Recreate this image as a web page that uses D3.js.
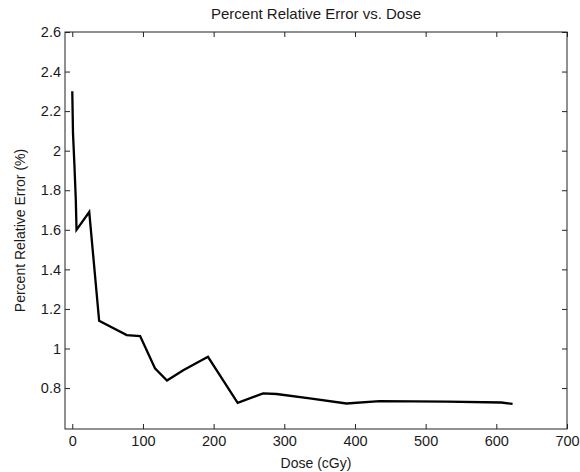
<!DOCTYPE html>
<html><head><meta charset="utf-8">
<script src="https://cdn.jsdelivr.net/npm/d3@7"></script>
<style>body{margin:0;background:#fff}svg{display:block}text{font-family:"Liberation Sans",Arial,sans-serif;fill:#1a1a1a}</style>
</head><body><svg id="c" width="580" height="472"></svg>
<script>
const dose = [0, 1, 3, 5, 6, 24, 38, 77, 96, 117, 134, 157, 192, 234, 270, 289, 336, 388, 435, 530, 607, 623];
const err  = [2.30, 2.09, 1.93, 1.75, 1.60, 1.69, 1.14, 1.068, 1.063, 0.90, 0.838, 0.89, 0.958, 0.725, 0.773, 0.77, 0.748, 0.722, 0.734, 0.731, 0.727, 0.72];
const xTicks = [0, 100, 200, 300, 400, 500, 600, 700];
const yTicks = [0.8, 1, 1.2, 1.4, 1.6, 1.8, 2, 2.2, 2.4, 2.6];
const title = "Percent Relative Error vs. Dose";
const xLabel = "Dose (cGy)";
const yLabel = "Percent Relative Error (%)";

const svg = d3.select("#c");
const L = 65, R = 567, T = 32, B = 429;
const x = d3.scaleLinear().domain([-10.3, 700]).range([L, R]);
const y = d3.scaleLinear().domain([0.593, 2.6]).range([B, T]);
const fmt = d => String(d);
const fs = 14.5;

function styleAxis(g){ g.select(".domain").remove(); g.selectAll("line").attr("stroke","#222"); g.selectAll("text").style("font-size",fs+"px").attr("fill","#1a1a1a"); }

svg.append("g").attr("transform",`translate(0,${B})`)
  .call(d3.axisBottom(x).tickValues(xTicks).tickFormat(fmt).tickSizeInner(-5).tickSizeOuter(0).tickPadding(7))
  .call(styleAxis);
svg.append("g").attr("transform",`translate(0,${T})`)
  .call(d3.axisTop(x).tickValues(xTicks).tickFormat("").tickSizeInner(-5).tickSizeOuter(0))
  .call(styleAxis);
svg.append("g").attr("transform",`translate(${L},0)`)
  .call(d3.axisLeft(y).tickValues(yTicks).tickFormat(fmt).tickSizeInner(-5).tickSizeOuter(0).tickPadding(4))
  .call(styleAxis);
svg.append("g").attr("transform",`translate(${R},0)`)
  .call(d3.axisRight(y).tickValues(yTicks).tickFormat("").tickSizeInner(-5).tickSizeOuter(0))
  .call(styleAxis);

svg.append("rect").attr("x",L).attr("y",T).attr("width",R-L).attr("height",B-T)
  .attr("fill","none").attr("stroke","#222").attr("stroke-width",1);

const pts = dose.map((d,i)=>[d, err[i]]);
svg.append("path").datum(pts)
  .attr("d", d3.line().x(d=>x(d[0])).y(d=>y(d[1])))
  .attr("fill","none").attr("stroke","#000").attr("stroke-width",2.3).attr("stroke-linejoin","miter");

svg.append("text").attr("x",(L+R)/2).attr("y",19).attr("text-anchor","middle").style("font-size","15px").text(title);
svg.append("text").attr("x",(L+R)/2).attr("y",468).attr("text-anchor","middle").style("font-size","14px").text(xLabel);
svg.append("text").attr("transform",`translate(25,${(T+B)/2}) rotate(-90)`).attr("text-anchor","middle").style("font-size","14px").text(yLabel);
</script></body></html>
